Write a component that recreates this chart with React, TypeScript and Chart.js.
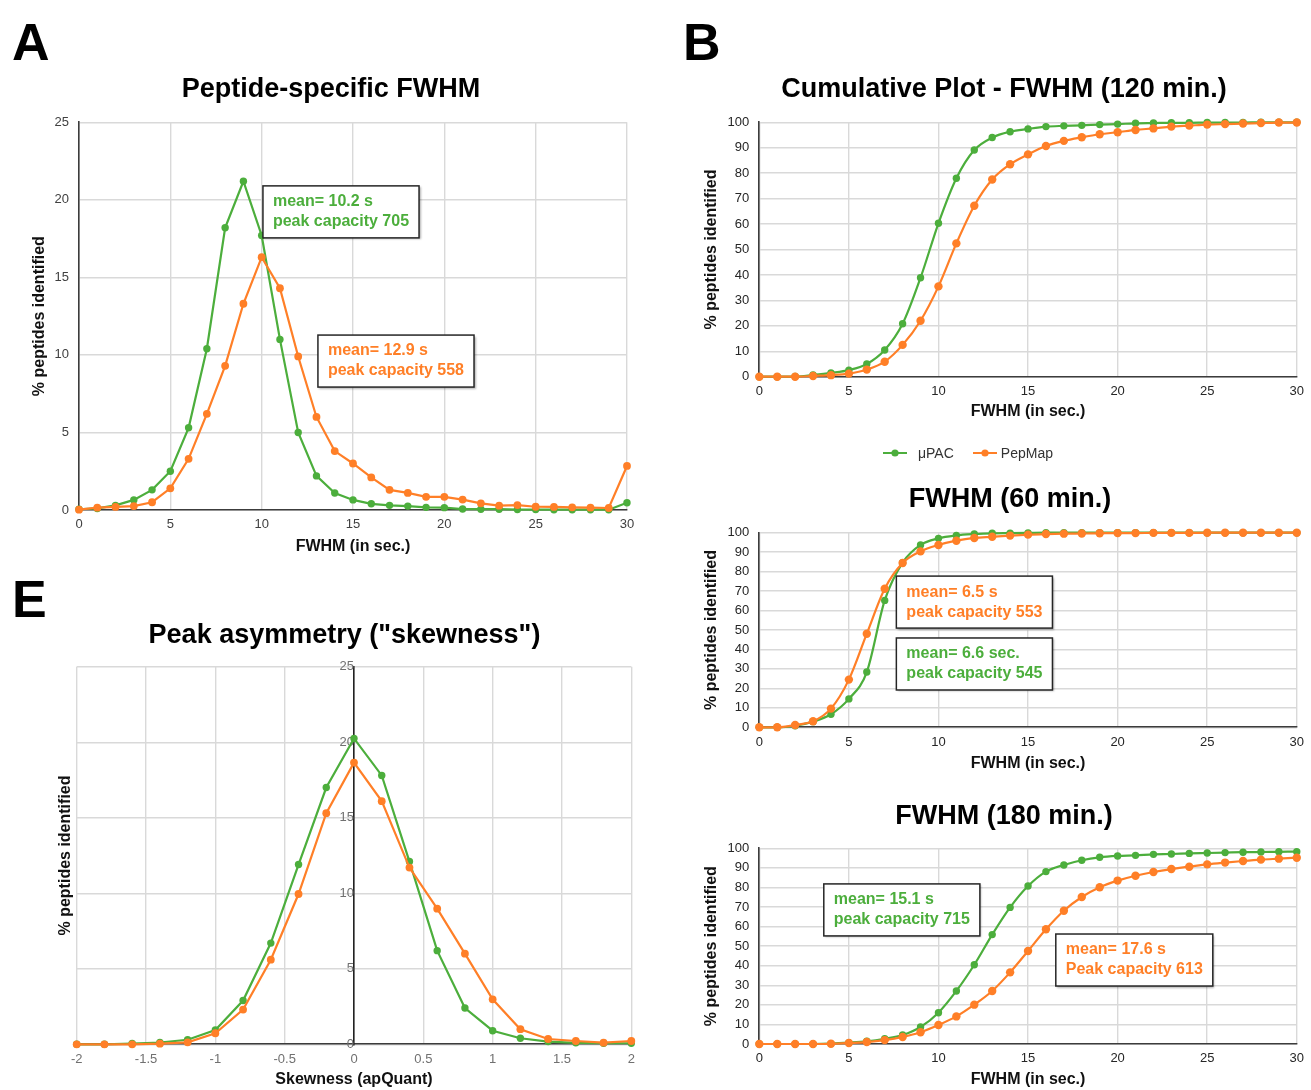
import React, { useEffect, useRef } from 'react';
import { Chart, registerables } from 'chart.js';

Chart.register(...registerables);

const FONT = '"Liberation Sans", Arial, Helvetica, sans-serif';
Chart.defaults.font.family = FONT;

const GREEN = '#4cae3c';
const ORANGE = '#ff7f27';
const GRID = '#d9d9d9';
const AXIS = '#3c3c3c';

// ---------- data ----------
const fwhmBins = [0, 1, 2, 3, 4, 5, 6, 7, 8, 9, 10, 11, 12, 13, 14, 15, 16, 17, 18, 19, 20, 21, 22, 23, 24, 25, 26, 27, 28, 29, 30];

const aUpac = [0.05, 0.1, 0.3, 0.65, 1.3, 2.5, 5.3, 10.4, 18.2, 21.2, 17.7, 11.0, 5.0, 2.2, 1.1, 0.65, 0.4, 0.3, 0.25, 0.17, 0.15, 0.06, 0.05, 0.05, 0.03, 0.03, 0.02, 0.02, 0.02, 0.02, 0.47];
const aPepmap = [0.02, 0.15, 0.2, 0.25, 0.5, 1.4, 3.3, 6.2, 9.3, 13.3, 16.3, 14.3, 9.9, 6.0, 3.8, 3.0, 2.1, 1.3, 1.1, 0.85, 0.85, 0.67, 0.43, 0.28, 0.32, 0.21, 0.2, 0.17, 0.15, 0.13, 2.84];

const b120Upac = [0, 0, 0.05, 0.7, 1.5, 2.6, 5.0, 10.5, 20.8, 38.9, 60.3, 78.0, 89.1, 94.0, 96.3, 97.4, 98.3, 98.6, 98.8, 99.1, 99.3, 99.6, 99.7, 99.8, 99.8, 99.9, 99.9, 99.9, 100, 100, 100];
const b120Pepmap = [0, 0, 0, 0.3, 0.6, 1.2, 2.8, 5.9, 12.5, 22.0, 35.5, 52.4, 67.2, 77.5, 83.5, 87.4, 90.7, 92.7, 94.1, 95.3, 96.1, 97.0, 97.6, 98.3, 98.7, 99.1, 99.3, 99.5, 99.7, 99.9, 99.9];

const b60Upac = [0, 0, 0.8, 2.9, 6.7, 14.6, 28.4, 65.2, 84.6, 93.7, 97.1, 98.6, 99.3, 99.7, 99.8, 99.9, 100, 100, 100, 100, 100, 100, 100, 100, 100, 100, 100, 100, 100, 100, 100];
const b60Pepmap = [0, 0, 1.2, 3.1, 9.6, 24.5, 48.1, 71.2, 84.4, 90.4, 93.7, 95.9, 97.3, 97.9, 98.5, 99.0, 99.3, 99.5, 99.6, 99.7, 99.8, 99.8, 99.9, 99.9, 99.9, 100, 100, 100, 100, 100, 100];

const b180Upac = [0, 0, 0, 0, 0.2, 0.7, 1.4, 2.7, 4.6, 8.7, 16.0, 27.1, 40.5, 55.9, 69.8, 80.7, 88.1, 91.5, 93.9, 95.4, 96.1, 96.4, 96.9, 97.1, 97.4, 97.6, 97.8, 98.0, 98.1, 98.2, 98.3];
const b180Pepmap = [0, 0, 0, 0, 0.1, 0.5, 1.0, 2.0, 3.6, 6.0, 9.7, 14.1, 20.1, 27.1, 36.6, 47.5, 58.6, 68.1, 75.1, 80.1, 83.5, 86.0, 87.9, 89.4, 90.6, 91.8, 92.7, 93.5, 94.2, 94.7, 95.2];

const skewBins = [-2, -1.8, -1.6, -1.4, -1.2, -1, -0.8, -0.6, -0.4, -0.2, 0, 0.2, 0.4, 0.6, 0.8, 1, 1.2, 1.4, 1.6, 1.8, 2];
const eUpac = [0, 0, 0.05, 0.12, 0.3, 0.95, 2.9, 6.7, 11.9, 17.0, 20.25, 17.8, 12.1, 6.2, 2.4, 0.9, 0.4, 0.18, 0.1, 0.07, 0.07];
const ePepmap = [0, 0, 0, 0.04, 0.13, 0.73, 2.3, 5.6, 9.95, 15.3, 18.65, 16.1, 11.7, 8.98, 6.0, 2.98, 1.0, 0.35, 0.22, 0.11, 0.22];

const seriesNames = ['μPAC', 'PepMap'];

// ---------- annotation boxes plugin ----------
type Note = { x: number; y: number; lines: string[]; color: string };
const noteBoxPlugin = {
  id: 'noteBoxes',
  afterDatasetsDraw(chart: any, _args: any, opts: any) {
    const notes: Note[] = (opts && opts.items) || [];
    if (!notes.length) return;
    const { ctx } = chart;
    const xs = chart.scales.x;
    const ys = chart.scales.y;
    notes.forEach((n) => {
      ctx.save();
      ctx.font = `bold 16px ${FONT}`;
      const w = Math.max(...n.lines.map((l) => ctx.measureText(l).width));
      const padX = 10;
      const padY = 6;
      const lh = 20;
      const bw = w + 2 * padX;
      const bh = n.lines.length * lh + 2 * padY;
      const x0 = xs.getPixelForValue(n.x);
      const y0 = ys.getPixelForValue(n.y);
      ctx.shadowColor = 'rgba(0,0,0,0.3)';
      ctx.shadowOffsetX = 1.5;
      ctx.shadowOffsetY = 1.5;
      ctx.shadowBlur = 2;
      ctx.fillStyle = '#ffffff';
      ctx.fillRect(x0, y0, bw, bh);
      ctx.shadowColor = 'transparent';
      ctx.strokeStyle = '#262626';
      ctx.lineWidth = 1.5;
      ctx.strokeRect(x0, y0, bw, bh);
      ctx.fillStyle = n.color;
      ctx.textBaseline = 'middle';
      ctx.textAlign = 'left';
      n.lines.forEach((l, i) => ctx.fillText(l, x0 + padX, y0 + padY + lh / 2 + i * lh));
      ctx.restore();
    });
  },
};
Chart.register(noteBoxPlugin);

// ---------- layout frames ----------
type Frame = {
  left: number; top: number; width: number; height: number;
  plotLeft: number; plotRight: number; plotTop: number; plotBottom: number;
  titleX: number; titleY: number; xTitleY: number; yTitleX: number;
};

const TITLE_SIZE = 27;
const TITLE_LH = TITLE_SIZE * 1.2;

function geom(f: Frame) {
  const boxLeft = 2 * f.titleX - f.plotRight;
  return {
    pl: boxLeft - f.left,
    pr: f.left + f.width - f.plotRight,
    yWidth: f.plotLeft - boxLeft,
    yTitlePad: f.yTitleX - boxLeft,
    titlePadTop: f.titleY - f.top - TITLE_LH / 2,
    titlePadBottom: f.plotTop - f.titleY - TITLE_LH / 2,
    xHeight: f.top + f.height - f.plotBottom,
    xTitlePadBottom: f.top + f.height - f.xTitleY - 9.6,
  };
}

function series(label: string, color: string, xs: number[], ys: number[], smooth: boolean, radius: number, order: number) {
  return {
    label,
    data: xs.map((x, i) => ({ x, y: ys[i] })),
    borderColor: color,
    backgroundColor: color,
    pointBackgroundColor: color,
    pointBorderColor: color,
    pointBorderWidth: 0,
    pointRadius: radius,
    borderWidth: 2.2,
    tension: smooth ? 0.4 : 0,
    cubicInterpolationMode: smooth ? 'monotone' : 'default',
    clip: false,
    order,
    xAxisID: 'x',
    yAxisID: 'y',
  };
}

const plainNumber = (v: any) => String(Math.round(Number(v) * 100) / 100);

function xScale(g: any, min: number, max: number, step: number, text: string, tickColor: string) {
  return {
    type: 'linear', min, max,
    ticks: { stepSize: step, color: tickColor, font: { size: 13 }, padding: 7, callback: plainNumber },
    grid: { color: GRID, lineWidth: 1.4, drawTicks: false },
    border: { color: AXIS, width: 1.6 },
    title: { display: true, text, color: '#111', font: { size: 16, weight: 'bold', lineHeight: 1.2 }, padding: { top: 0, bottom: g.xTitlePadBottom } },
    afterFit: (s: any) => { s.height = g.xHeight; },
  };
}

function yScale(g: any, max: number, step: number, tickColor: string) {
  return {
    type: 'linear', min: 0, max,
    ticks: { stepSize: step, color: tickColor, font: { size: 13 }, padding: 10, callback: plainNumber },
    grid: { color: GRID, lineWidth: 1.4, drawTicks: false },
    border: { color: AXIS, width: 1.6 },
    title: { display: true, text: '% peptides identified', color: '#111', font: { size: 16, weight: 'bold', lineHeight: '0px' }, padding: { top: g.yTitlePad, bottom: 0 } },
    afterFit: (s: any) => { s.width = g.yWidth; },
  };
}

function baseOptions(g: any, title: string, notes: Note[]) {
  return {
    responsive: false,
    animation: false,
    layout: { padding: { left: g.pl, right: g.pr, top: 0, bottom: 0 } },
    plugins: {
      legend: { display: false },
      tooltip: { enabled: false },
      title: {
        display: true, text: title, color: '#000',
        font: { size: TITLE_SIZE, weight: 'bold', lineHeight: 1.2 },
        padding: { top: g.titlePadTop, bottom: g.titlePadBottom },
      },
      noteBoxes: { items: notes },
    },
  };
}

function fwhmChart(f: Frame, title: string, yMax: number, yStep: number, up: number[], pep: number[], smooth: boolean, notes: Note[], tickColor: string, rOrange: number) {
  const g = geom(f);
  return {
    type: 'line',
    data: {
      datasets: [
        series(seriesNames[0], GREEN, fwhmBins, up, smooth, 3.7, 1),
        series(seriesNames[1], ORANGE, fwhmBins, pep, smooth, rOrange, 0),
      ],
    },
    options: {
      ...baseOptions(g, title, notes),
      scales: {
        x: xScale(g, 0, 30, 5, 'FWHM (in sec.)', tickColor),
        y: yScale(g, yMax, yStep, tickColor),
      },
    },
  };
}

const frameA: Frame = { left: 0, top: 0, width: 660, height: 580, plotLeft: 79, plotRight: 627, plotTop: 122.3, plotBottom: 510, titleX: 331, titleY: 90, xTitleY: 547, yTitleX: 40 };
const frameB1: Frame = { left: 680, top: 0, width: 631, height: 440, plotLeft: 759.3, plotRight: 1300, plotTop: 122.3, plotBottom: 376.7, titleX: 1004, titleY: 90, xTitleY: 412, yTitleX: 712 };
const frameB2: Frame = { left: 680, top: 440, width: 631, height: 350, plotLeft: 759.3, plotRight: 1300, plotTop: 532.7, plotBottom: 727.3, titleX: 1010, titleY: 500, xTitleY: 764, yTitleX: 712 };
const frameB3: Frame = { left: 680, top: 790, width: 631, height: 300, plotLeft: 759.3, plotRight: 1300, plotTop: 848.3, plotBottom: 1044, titleX: 1004, titleY: 817, xTitleY: 1080, yTitleX: 712 };
const frameE: Frame = { left: 0, top: 580, width: 660, height: 510, plotLeft: 76.7, plotRight: 631.3, plotTop: 666.7, plotBottom: 1044.3, titleX: 344.5, titleY: 636, xTitleY: 1080, yTitleX: 65.5 };

const notesA: Note[] = [
  { x: 10.07, y: 20.9, lines: ['mean= 10.2 s', 'peak capacity 705'], color: GREEN },
  { x: 13.08, y: 11.28, lines: ['mean= 12.9 s', 'peak capacity 558'], color: ORANGE },
];
const notesB2: Note[] = [
  { x: 7.65, y: 77.7, lines: ['mean= 6.5 s', 'peak capacity 553'], color: ORANGE },
  { x: 7.65, y: 45.9, lines: ['mean= 6.6 sec.', 'peak capacity 545'], color: GREEN },
];
const notesB3: Note[] = [
  { x: 3.6, y: 81.8, lines: ['mean= 15.1 s', 'peak capacity 715'], color: GREEN },
  { x: 16.55, y: 56.2, lines: ['mean= 17.6 s', 'Peak capacity 613'], color: ORANGE },
];

function skewChart(f: Frame) {
  const g = geom(f);
  const tick = '#707070';
  return {
    type: 'line',
    data: {
      datasets: [
        series(seriesNames[0], GREEN, skewBins, eUpac, false, 3.7, 1),
        series(seriesNames[1], ORANGE, skewBins, ePepmap, false, 3.9, 0),
      ],
    },
    options: {
      ...baseOptions(g, 'Peak asymmetry ("skewness")', []),
      scales: {
        x: xScale(g, -2, 2, 0.5, 'Skewness (apQuant)', tick),
        yt: {
          type: 'linear', position: 'left', min: 0, max: 25,
          ticks: { display: false },
          grid: { display: false },
          border: { display: false },
          title: { display: true, text: '% peptides identified', color: '#111', font: { size: 16, weight: 'bold', lineHeight: '0px' }, padding: { top: g.yTitlePad, bottom: 0 } },
          afterFit: (s: any) => { s.width = g.yWidth; },
        },
        y: {
          type: 'linear', position: { x: 0 }, min: 0, max: 25,
          ticks: { stepSize: 5, color: tick, font: { size: 13 }, padding: 11, callback: plainNumber },
          grid: { color: GRID, lineWidth: 1.4, drawTicks: false },
          border: { color: '#222', width: 1.6 },
        },
      },
    },
  };
}

function ChartCanvas({ frame, build }: { frame: Frame; build: () => any }) {
  const ref = useRef<HTMLCanvasElement>(null);
  useEffect(() => {
    const chart = new Chart(ref.current as HTMLCanvasElement, build());
    return () => chart.destroy();
  }, []);
  return (
    <canvas
      ref={ref}
      width={frame.width}
      height={frame.height}
      style={{ position: 'absolute', left: frame.left, top: frame.top, width: frame.width, height: frame.height }}
    />
  );
}

function Sym({ color }: { color: string }) {
  return (
    <svg width="24" height="10" style={{ display: 'block' }}>
      <line x1="0" y1="5" x2="24" y2="5" stroke={color} strokeWidth="2" />
      <circle cx="12" cy="5" r="3.6" fill={color} />
    </svg>
  );
}

const letterStyle: React.CSSProperties = {
  position: 'absolute', font: `bold 52px ${FONT}`, lineHeight: '52px', color: '#000', margin: 0,
};

export default function App() {
  return (
    <div style={{ position: 'fixed', left: 0, top: 0, width: 1311, height: 1090, overflow: 'hidden', background: '#fff' }}>
      <ChartCanvas frame={frameA} build={() => fwhmChart(frameA, 'Peptide-specific FWHM', 25, 5, aUpac, aPepmap, false, notesA, '#404040', 3.9)} />
      <ChartCanvas frame={frameB1} build={() => fwhmChart(frameB1, 'Cumulative Plot - FWHM (120 min.)', 100, 10, b120Upac, b120Pepmap, true, [], '#262626', 4.2)} />
      <ChartCanvas frame={frameB2} build={() => fwhmChart(frameB2, 'FWHM (60 min.)', 100, 10, b60Upac, b60Pepmap, true, notesB2, '#262626', 4.2)} />
      <ChartCanvas frame={frameB3} build={() => fwhmChart(frameB3, 'FWHM (180 min.)', 100, 10, b180Upac, b180Pepmap, true, notesB3, '#262626', 4.2)} />
      <ChartCanvas frame={frameE} build={() => skewChart(frameE)} />

      <div style={{ position: 'absolute', left: 883, top: 443, height: 20, display: 'flex', alignItems: 'center', font: `14px ${FONT}`, color: '#333' }}>
        <Sym color={GREEN} />
        <span style={{ marginLeft: 11 }}>{seriesNames[0]}</span>
        <span style={{ marginLeft: 19 }}><Sym color={ORANGE} /></span>
        <span style={{ marginLeft: 4 }}>{seriesNames[1]}</span>
      </div>

      <div style={{ ...letterStyle, left: 12, top: 16 }}>A</div>
      <div style={{ ...letterStyle, left: 683, top: 16 }}>B</div>
      <div style={{ ...letterStyle, left: 12, top: 573 }}>E</div>
    </div>
  );
}
